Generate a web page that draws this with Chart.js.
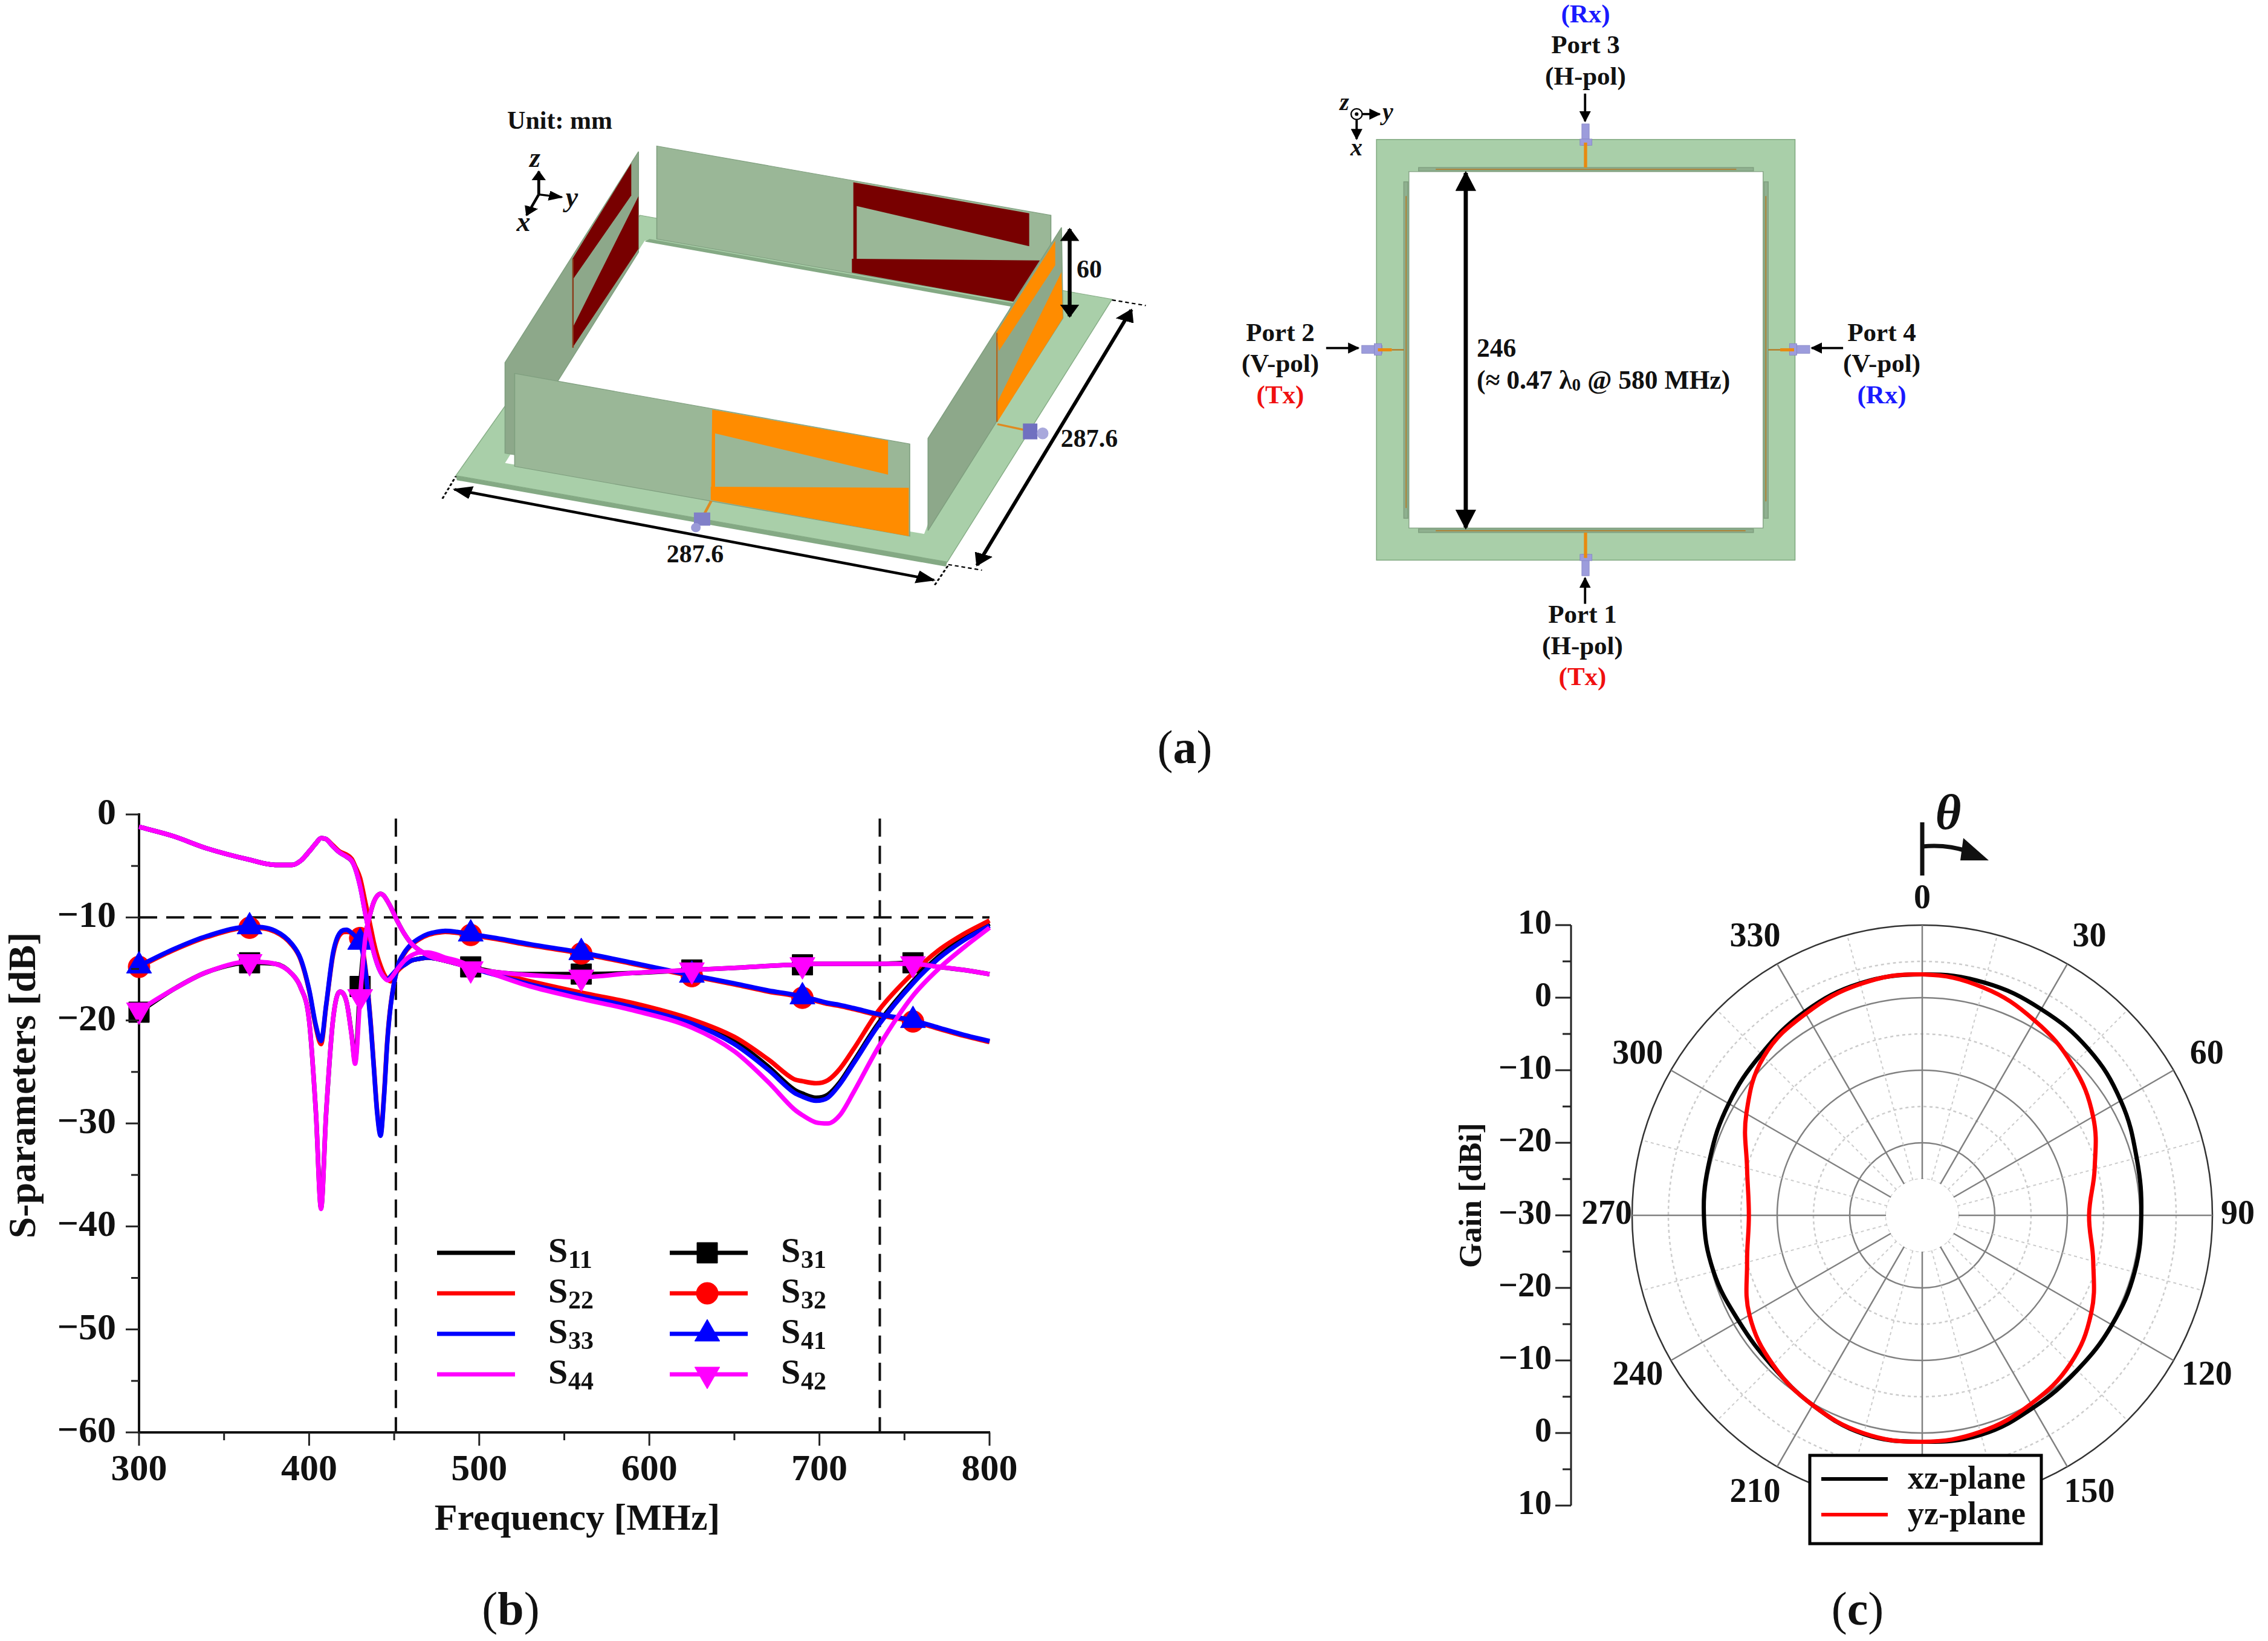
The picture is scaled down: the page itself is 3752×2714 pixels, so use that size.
<!DOCTYPE html>
<html>
<head>
<meta charset="utf-8">
<title>Antenna S-parameters and gain pattern</title>
<script src="https://cdn.jsdelivr.net/npm/chart.js@4"></script>
<style>
  html, body { margin: 0; background: #fff; }
  #page { position: relative; width: 3752px; height: 2714px; overflow: hidden; }
  #page svg, #page canvas { position: absolute; }
  svg text { font-family: "Liberation Serif", serif; font-weight: bold; fill: #111; dominant-baseline: central; }
</style>
</head>
<body>
<div id="page">
<svg width="3752" height="2714" viewBox="0 0 3752 2714">
  <defs>
    <marker id="ah" viewBox="0 0 10 10" refX="9" refY="5" markerWidth="5" markerHeight="5" orient="auto-start-reverse"><path d="M0 0L10 5L0 10z" fill="#000"/></marker>
  </defs>

  <!-- perspective view, polygons in crop coordinates -->
  <g transform="translate(700,150) scale(.797,.545)">
    <polygon points="450,378 1430,633 1088,1430 68,1168" fill="#a9cfa9" stroke="#86ad86" stroke-width="2"/>
    <polygon points="68,1168 1088,1430 1085,1444 70,1182" fill="#84a984"/>
    <polygon points="460,455 1220,650 1040,1345 170,1130" fill="#fff"/>
    <polygon points="485,168 1303,378 1303,470 1225,640 485,450" fill="#9ab797" stroke="#7f9f7f" stroke-width="2"/>
    <polygon points="470,450 1225,645 1220,655 460,458" fill="#84a984"/>
    <polygon points="893,278 1258,372 1258,472 900,350 900,512 893,512" fill="#780000"/>
    <polygon points="890,510 1280,515 1225,640 890,552" fill="#780000"/>
    <polygon points="447,185 170,825 170,1100 190,1105 280,880 447,490" fill="#8da88a" stroke="#7f9f7f" stroke-width="2"/>
    <polygon points="432,220 432,318 312,570 310,510" fill="#780000"/>
    <polygon points="447,320 447,480 310,780 310,720" fill="#780000"/>
    <line x1="311" y1="510" x2="311" y2="780" stroke="#8a3a1a" stroke-width="3"/>
    <polygon points="190,858 1010,1072 1010,1352 190,1140" fill="#9ab797" stroke="#7f9f7f" stroke-width="2"/>
    <polygon points="600,968 965,1062 965,1165 606,1040 606,1205 598,1205" fill="#ff8c00"/>
    <polygon points="597,1202 1008,1205 1008,1352 597,1242" fill="#ff8c00"/>
    <polygon points="1325,415 1048,1055 1048,1335 1190,1005 1328,690" fill="#8da88a" stroke="#7f9f7f" stroke-width="2"/>
    <polygon points="1312,455 1312,530 1195,790 1190,735" fill="#ff8c00"/>
    <polygon points="1325,550 1328,690 1192,1005 1192,945" fill="#ff8c00"/>
    <line x1="1191" y1="735" x2="1191" y2="1005" stroke="#b5651d" stroke-width="3"/>
    <line x1="598" y1="1245" x2="578" y2="1300" stroke="#e08a20" stroke-width="6"/>
    <line x1="1192" y1="1012" x2="1250" y2="1030" stroke="#e08a20" stroke-width="6"/>
    <rect x="562" y="1280" width="34" height="40" fill="#8080c8"/>
    <ellipse cx="566" cy="1326" rx="10" ry="14" fill="#9a9ad8"/>
    <rect x="1245" y="1010" width="30" height="48" fill="#7070c0"/>
    <ellipse cx="1286" cy="1040" rx="12" ry="18" fill="#a8a8dc"/>
    <g stroke="#000" fill="none">
      <line x1="65" y1="1210" x2="1060" y2="1485" stroke-width="8" marker-start="url(#ah)" marker-end="url(#ah)"/>
      <line x1="1150" y1="1440" x2="1470" y2="665" stroke-width="8" marker-start="url(#ah)" marker-end="url(#ah)"/>
      <line x1="1342" y1="420" x2="1342" y2="685" stroke-width="8" marker-start="url(#ah)" marker-end="url(#ah)"/>
      <g stroke-width="4" stroke-dasharray="8 6">
        <line x1="40" y1="1238" x2="68" y2="1170"/>
        <line x1="1062" y1="1500" x2="1090" y2="1440"/>
        <line x1="1090" y1="1438" x2="1160" y2="1455"/>
        <line x1="1430" y1="635" x2="1500" y2="652"/>
      </g>
      <line x1="240" y1="315" x2="240" y2="245" stroke-width="6" marker-end="url(#ah)"/>
      <line x1="240" y1="315" x2="288" y2="323" stroke-width="6" marker-end="url(#ah)"/>
      <line x1="240" y1="315" x2="215" y2="378" stroke-width="6" marker-end="url(#ah)"/>
    </g>
  </g>
  <text x="926" y="199" text-anchor="middle" font-size="42">Unit: mm</text>
  <text x="885" y="260" text-anchor="middle" font-size="46" font-style="italic">z</text>
  <text x="946" y="325" text-anchor="middle" font-size="46" font-style="italic">y</text>
  <text x="866" y="366" text-anchor="middle" font-size="46" font-style="italic">x</text>
  <text x="1802" y="445" text-anchor="middle" font-size="42">60</text>
  <text x="1802" y="725" text-anchor="middle" font-size="42">287.6</text>
  <text x="1150" y="916" text-anchor="middle" font-size="42">287.6</text>

  <!-- top view -->
  <g transform="translate(2050,0) scale(.765,.737)">
    <rect x="297" y="313" width="905" height="944" fill="#a9cfa9" stroke="#7fa87f" stroke-width="2"/>
    <rect x="367" y="385" width="766" height="800" fill="#fff" stroke="#8aa88a" stroke-width="2"/>
    <g stroke="#b08a3a" stroke-width="2">
      <rect x="388" y="376" width="724" height="8" fill="#8fb08f" stroke="#7f9f7f"/>
      <rect x="388" y="1187" width="724" height="8" fill="#8fb08f" stroke="#7f9f7f"/>
      <rect x="356" y="408" width="9" height="755" fill="#8fb08f" stroke="#7f9f7f"/>
      <rect x="1135" y="408" width="9" height="755" fill="#8fb08f" stroke="#7f9f7f"/>
      <line x1="425" y1="380" x2="1075" y2="380" stroke="#b5751d"/>
      <line x1="425" y1="1191" x2="1095" y2="1191" stroke="#b5751d"/>
      <line x1="361" y1="440" x2="361" y2="1140" stroke="#b5751d"/>
      <line x1="1139" y1="440" x2="1139" y2="1125" stroke="#b5751d"/>
    </g>
    <g fill="#9c9cdc" stroke="#8080c0">
      <rect x="741" y="278" width="16" height="48"/><rect x="737" y="312" width="26" height="14"/>
      <rect x="741" y="1244" width="16" height="48"/><rect x="737" y="1244" width="26" height="14"/>
      <rect x="265" y="775" width="44" height="18"/><rect x="292" y="771" width="16" height="26"/>
      <rect x="1190" y="775" width="44" height="18"/><rect x="1190" y="771" width="16" height="26"/>
    </g>
    <g stroke="#e88a10" stroke-width="7">
      <line x1="749" y1="320" x2="749" y2="376"/>
      <line x1="749" y1="1195" x2="749" y2="1252"/>
      <line x1="300" y1="785" x2="330" y2="785"/>
      <line x1="1170" y1="785" x2="1200" y2="785"/>
    </g>
    <g stroke="#b5751d" stroke-width="3">
      <line x1="330" y1="785" x2="356" y2="785"/>
      <line x1="1144" y1="785" x2="1170" y2="785"/>
    </g>
    <g stroke="#000" fill="none" stroke-width="5">
      <line x1="748" y1="210" x2="748" y2="272" marker-end="url(#ah)"/>
      <line x1="748" y1="1355" x2="748" y2="1297" marker-end="url(#ah)"/>
      <line x1="188" y1="781" x2="258" y2="781" marker-end="url(#ah)"/>
      <line x1="1306" y1="781" x2="1238" y2="781" marker-end="url(#ah)"/>
      <line x1="490" y1="388" x2="490" y2="1184" stroke-width="9" marker-start="url(#ah)" marker-end="url(#ah)"/>
      <circle cx="254" cy="256" r="12" stroke-width="3"/>
      <line x1="266" y1="256" x2="304" y2="256" marker-end="url(#ah)"/>
      <line x1="254" y1="268" x2="254" y2="312" marker-end="url(#ah)"/>
    </g>
    <circle cx="254" cy="256" r="4" fill="#000"/>
  </g>
  <text x="2224" y="168" text-anchor="middle" font-size="40" font-style="italic">z</text>
  <text x="2296" y="184" text-anchor="middle" font-size="40" font-style="italic">y</text>
  <text x="2244" y="243" text-anchor="middle" font-size="40" font-style="italic">x</text>

  <g font-size="43" text-anchor="middle">
    <text x="2623" y="22" style="fill:#1a1aff">(Rx)</text>
    <text x="2623" y="73">Port 3</text>
    <text x="2623" y="125">(H-pol)</text>
    <text x="2118" y="549">Port 2</text>
    <text x="2118" y="600">(V-pol)</text>
    <text x="2118" y="652" style="fill:#f01010">(Tx)</text>
    <text x="3113" y="549">Port 4</text>
    <text x="3113" y="600">(V-pol)</text>
    <text x="3113" y="652" style="fill:#1a1aff">(Rx)</text>
    <text x="2618" y="1015">Port 1</text>
    <text x="2618" y="1067">(H-pol)</text>
    <text x="2618" y="1118" style="fill:#f01010">(Tx)</text>
  </g>
  <text x="2443" y="575" font-size="43.5">246</text>
  <text x="2443" y="628" font-size="43.5">(≈ 0.47 λ<tspan font-size="29" dy="8">0</tspan><tspan dy="-8"> @ 580 MHz)</tspan></text>

  <text x="1960" y="1235" text-anchor="middle" font-size="78" style="font-weight:normal">(<tspan font-weight="bold">a</tspan>)</text>
  <text x="845" y="2660" text-anchor="middle" font-size="78" style="font-weight:normal">(<tspan font-weight="bold">b</tspan>)</text>
  <text x="3073" y="2660" text-anchor="middle" font-size="78" style="font-weight:normal">(<tspan font-weight="bold">c</tspan>)</text>
</svg>

<canvas id="sparams" width="1750" height="1300" style="left:0;top:1300px"></canvas>
<canvas id="pattern" width="1402" height="1414" style="left:2350px;top:1300px"></canvas>
</div>

<script>
// ---- panel (b) values ----
const freqMHz = [300,320,340,365,380,390,395,400,404,407,410,414,418,422,425,427,430,433,436,438,440,442,444,446,448,452,456,460,465,470,475,480,487,495,510,530,560,590,625,650,670,685,690,698,705,712,720,735,755,770,785,800];
const markerFreqs = [300,365,430,495,560,625,690,755];
const freqTicks = [300,400,500,600,700,800];
const dbTicks = [0,-10,-20,-30,-40,-50,-60];
const limitDb = -10;
const bandEdges = [451,735.5];

const s11 = [-1.2,-2.1,-3.3,-4.4,-4.9,-4.9,-4.5,-3.6,-2.8,-2.3,-2.4,-3.1,-3.7,-4.1,-4.5,-5.1,-6.6,-9,-11.4,-12.9,-14.1,-15,-15.6,-16,-16,-15,-14.6,-14.2,-14,-13.9,-14,-14.2,-14.5,-14.9,-15.5,-16.4,-17.5,-18.5,-20.1,-22,-24.5,-26.7,-27.1,-27.5,-27.2,-26,-24,-20.2,-16.2,-13.8,-12,-10.6];
const s22 = [-1.2,-2.1,-3.3,-4.4,-4.9,-4.9,-4.5,-3.6,-2.8,-2.3,-2.4,-3,-3.6,-3.9,-4.3,-5,-6.2,-8.5,-10.8,-12.4,-13.7,-14.7,-15.5,-16,-16.2,-15.2,-14.6,-14.2,-14,-13.9,-14,-14.2,-14.5,-14.9,-15.4,-16.2,-17.3,-18.3,-19.9,-21.6,-23.8,-25.7,-25.9,-26.1,-25.8,-24.7,-22.8,-19,-15.4,-13.2,-11.6,-10.3];
const s33 = [-1.2,-2.1,-3.3,-4.4,-4.9,-4.9,-4.5,-3.6,-2.8,-2.3,-2.4,-3.1,-3.7,-4.1,-4.5,-5.2,-7,-9.6,-12,-13.4,-14.5,-15.3,-15.8,-16,-15.7,-15,-14.6,-14.2,-14,-13.9,-14,-14.2,-14.5,-14.9,-15.6,-16.5,-17.6,-18.7,-20.3,-22.3,-24.8,-27,-27.4,-27.8,-27.5,-26.2,-24.2,-20.4,-16.4,-14,-12.2,-10.8];
const s44 = [-1.2,-2.1,-3.3,-4.4,-4.9,-4.9,-4.5,-3.6,-2.8,-2.3,-2.4,-3.1,-3.7,-4.1,-4.5,-5.2,-7,-9.6,-12,-13.4,-14.5,-15.3,-15.8,-16.1,-15.9,-15,-14.2,-13.7,-13.4,-13.4,-13.6,-13.9,-14.2,-14.7,-15.6,-16.7,-17.9,-19,-20.7,-23,-26,-28.6,-29.2,-29.9,-30,-29.2,-27,-22.5,-17.6,-15,-12.9,-11];
const s31 = [-19.2,-17,-15.3,-14.4,-14.5,-15.5,-16.8,-20,-29,-38.2,-29,-20,-17.2,-18.2,-21.4,-24,-16.7,-11.9,-9.6,-8.5,-7.9,-7.7,-7.9,-8.4,-9,-10.4,-11.6,-12.5,-13.2,-13.7,-14,-14.2,-14.5,-14.8,-15.3,-15.5,-15.5,-15.4,-15.1,-14.9,-14.7,-14.6,-14.6,-14.5,-14.5,-14.5,-14.5,-14.5,-14.4,-14.8,-15.1,-15.5];
const s32 = [-14.8,-13.2,-11.9,-11,-11.4,-12.7,-14.1,-17.1,-20.7,-22.3,-18.6,-13.7,-11.7,-11.4,-11.5,-11.7,-12,-14.8,-19.8,-24.3,-28.8,-31,-27.3,-21.8,-18.4,-14.9,-13.5,-12.7,-12.1,-11.7,-11.5,-11.4,-11.5,-11.7,-12.1,-12.7,-13.5,-14.5,-15.7,-16.5,-17.2,-17.6,-17.8,-18.1,-18.4,-18.6,-18.9,-19.5,-20.1,-20.8,-21.5,-22.1];
const s41 = [-14.7,-13.1,-11.8,-10.9,-11.3,-12.6,-14,-17,-20.5,-22,-18.5,-13.5,-11.5,-11.2,-11.5,-11.8,-12.4,-15,-20,-24.5,-29,-31.2,-27.5,-22,-18.5,-14.8,-13.4,-12.6,-12,-11.6,-11.4,-11.3,-11.4,-11.6,-12,-12.6,-13.4,-14.4,-15.6,-16.4,-17.1,-17.5,-17.7,-18,-18.3,-18.5,-18.8,-19.4,-20,-20.7,-21.4,-22];
const s42 = [-19,-17,-15.3,-14.3,-14.5,-15.5,-16.8,-20,-29,-38.3,-29,-20,-17.2,-18.2,-21.5,-24.2,-17.7,-12,-9.6,-8.5,-7.9,-7.7,-7.9,-8.4,-9,-10.4,-11.6,-12.5,-13.2,-13.7,-14,-14.2,-14.5,-15,-15.3,-15.6,-15.8,-15.4,-15.1,-14.9,-14.7,-14.6,-14.6,-14.5,-14.5,-14.5,-14.5,-14.5,-14.5,-14.8,-15.1,-15.5];

// ---- panel (c) values, one per 15 degrees ----
const thetaDeg = [0,15,30,45,60,75,90,105,120,135,150,165,180,195,210,225,240,255,270,285,300,315,330,345];
const xzPlane = [3.2,3.2,2.8,2.4,1.6,0.6,0.2,0.3,0.2,0.2,0.6,1.3,1.2,1.2,0.2,-0.7,-0.8,-0.2,0.1,0.3,0.8,1.4,2.4,3.1];
const yzPlane = [3.2,2.5,1,-0.7,-2.8,-5.4,-7,-5.6,-3.1,-1.1,0,0.9,1.2,1.1,0.2,-0.9,-2.5,-5,-6.1,-5,-2,0.9,2.1,3];
const gainAxisUp = [10,0,-10,-20,-30];
const gainAxisDown = [-20,-10,0,10];

const BLACK = '#000000', RED = '#ff0000', BLUE = '#0000ff', MAGENTA = '#ff00ff';
const SERIF = '"Liberation Serif", serif';
const minus = v => String(v).replace('-', '\u2212');

function text(ctx, str, x, y, font, align, rotate) {
  ctx.save();
  ctx.font = font;
  ctx.fillStyle = '#111';
  ctx.textAlign = align || 'center';
  ctx.textBaseline = 'middle';
  ctx.translate(x, y);
  if (rotate) ctx.rotate(rotate);
  ctx.fillText(str, 0, 0);
  ctx.restore();
}

function seg(ctx, x1, y1, x2, y2, color, width) {
  ctx.strokeStyle = color;
  ctx.lineWidth = width;
  ctx.beginPath();
  ctx.moveTo(x1, y1);
  ctx.lineTo(x2, y2);
  ctx.stroke();
}

// ---- panel (b) ----
const legendRows = [
  { name: 'S', sub: '11', color: BLACK, col: 0, row: 0 },
  { name: 'S', sub: '22', color: RED, col: 0, row: 1 },
  { name: 'S', sub: '33', color: BLUE, col: 0, row: 2 },
  { name: 'S', sub: '44', color: MAGENTA, col: 0, row: 3 },
  { name: 'S', sub: '31', color: BLACK, col: 1, row: 0, style: 'rect', radius: 24 },
  { name: 'S', sub: '32', color: RED, col: 1, row: 1, style: 'circle', radius: 18 },
  { name: 'S', sub: '41', color: BLUE, col: 1, row: 2, style: 'triangle', radius: 24 },
  { name: 'S', sub: '42', color: MAGENTA, col: 1, row: 3, style: 'triangle', radius: 24, rotation: 180 }
];

const sparamDecor = {
  id: 'sparamDecor',
  afterDraw(chart) {
    const { ctx, scales: { x, y } } = chart;
    x.ticks.forEach(t => {
      const px = x.getPixelForValue(t.value);
      seg(ctx, px, y.bottom, px, y.bottom + (freqTicks.includes(t.value) ? 22 : 13), '#222', 3);
    });
    y.ticks.forEach(t => {
      const py = y.getPixelForValue(t.value);
      seg(ctx, x.left, py, x.left - (dbTicks.includes(t.value) ? 22 : 13), py, '#222', 3);
    });
    text(ctx, 'Frequency [MHz]', 955, 1214, 'bold 62px ' + SERIF);
    text(ctx, 'S-parameters [dB]', 41, 495, 'bold 64px ' + SERIF, 'center', -Math.PI / 2);
    legendRows.forEach(r => {
      const lx = r.col ? 1108 : 723;
      const ly = 772 + r.row * 67;
      seg(ctx, lx, ly, lx + 129, ly, r.color, 7);
      if (r.style) {
        ctx.fillStyle = r.color;
        ctx.strokeStyle = r.color;
        ctx.lineWidth = 1;
        Chart.helpers.drawPoint(ctx, { pointStyle: r.style, radius: r.radius, rotation: r.rotation || 0, borderWidth: 1 }, lx + 62, ly);
      }
      const tx = r.col ? 1292 : 907;
      text(ctx, r.name, tx, ly, 'bold 58px ' + SERIF, 'left');
      text(ctx, r.sub, tx + 33, ly + 14, 'bold 42px ' + SERIF, 'left');
    });
  }
};

function curve(label, values, color, order, marker) {
  const ds = {
    label,
    data: freqMHz.map((f, i) => ({ x: f, y: values[i] })),
    borderColor: color,
    backgroundColor: color,
    borderWidth: 7.5,
    cubicInterpolationMode: 'monotone',
    clip: false,
    order,
    pointRadius: 0,
    pointBorderWidth: 1
  };
  if (marker) {
    ds.pointStyle = marker.style;
    ds.pointRotation = marker.rotation || 0;
    ds.pointRadius = c => markerFreqs.includes(freqMHz[c.dataIndex]) ? marker.radius : 0;
  }
  return ds;
}

function dashed(data, order) {
  return { data, borderColor: '#111', borderWidth: 4, borderDash: [30, 15], pointRadius: 0, clip: false, order };
}

new Chart(document.getElementById('sparams'), {
  type: 'line',
  data: {
    datasets: [
      curve('S44', s44, MAGENTA, 1),
      curve('S42', s42, MAGENTA, 0, { style: 'triangle', radius: 24, rotation: 180 }),
      curve('S33', s33, BLUE, 3),
      curve('S41', s41, BLUE, 2, { style: 'triangle', radius: 24 }),
      curve('S22', s22, RED, 5),
      curve('S32', s32, RED, 4, { style: 'circle', radius: 18 }),
      curve('S11', s11, BLACK, 7),
      curve('S31', s31, BLACK, 6, { style: 'rect', radius: 24 }),
      dashed([{ x: 300, y: limitDb }, { x: 800, y: limitDb }], 10),
      dashed([{ x: bandEdges[0], y: -0.4 }, { x: bandEdges[0], y: -60 }], 10),
      dashed([{ x: bandEdges[1], y: -0.4 }, { x: bandEdges[1], y: -60 }], 10)
    ]
  },
  plugins: [sparamDecor],
  options: {
    responsive: false,
    animation: false,
    devicePixelRatio: 1,
    layout: { padding: { top: 47, right: 113 } },
    plugins: { legend: { display: false }, tooltip: { enabled: false } },
    scales: {
      x: {
        type: 'linear',
        min: 300,
        max: 800,
        afterFit: s => { s.height = 231; s.paddingLeft = 0; s.paddingRight = 0; },
        grid: { display: false },
        border: { color: '#111', width: 4 },
        ticks: {
          stepSize: 50,
          maxRotation: 0,
          autoSkip: false,
          padding: 18,
          color: '#111',
          font: { family: SERIF, size: 62, weight: 'bold' },
          callback: v => freqTicks.includes(v) ? v : ''
        }
      },
      y: {
        min: -60,
        max: 0,
        afterFit: s => { s.width = 230; s.paddingTop = 0; s.paddingBottom = 0; },
        grid: { display: false },
        border: { color: '#111', width: 4 },
        ticks: {
          stepSize: 5,
          autoSkip: false,
          padding: 30,
          color: '#111',
          font: { family: SERIF, size: 62, weight: 'bold' },
          callback: v => dbTicks.includes(v) ? minus(v) : ''
        }
      }
    }
  }
});

// ---- panel (c) ----
const patternDecor = {
  id: 'patternDecor',
  beforeDatasetsDraw(chart) {
    const { ctx } = chart;
    const r = chart.scales.r;
    const inner = r.getDistanceFromCenterForValue(-25);
    ctx.save();
    ctx.beginPath();
    ctx.arc(r.xCenter, r.yCenter, inner, 0, Math.PI * 2);
    ctx.fillStyle = '#fff';
    ctx.fill();
    thetaDeg.forEach((deg, i) => {
      const solid = deg % 30 === 0;
      const a = r.getPointPosition(i, inner);
      const b = r.getPointPosition(i, r.drawingArea);
      ctx.setLineDash(solid ? [] : [5, 5]);
      seg(ctx, a.x, a.y, b.x, b.y, solid ? '#808080' : '#cccccc', solid ? 2.5 : 2);
    });
    ctx.restore();
  },
  afterDraw(chart) {
    const { ctx } = chart;
    const r = chart.scales.r;
    const font = 'bold 56px ' + SERIF;
    thetaDeg.forEach((deg, i) => {
      if (deg % 30) return;
      const onAxis = deg % 90 === 0;
      const p = r.getPointPosition(i, r.drawingArea + (onAxis ? 42 : 51));
      const shift = onAxis ? 0 : (deg < 180 ? 11 : -11);
      text(ctx, String(deg), p.x + shift, p.y, font);
    });

    // gain axis to the left of the circle
    const ax = 249;
    const ym = v => r.getDistanceFromCenterForValue(v);
    seg(ctx, ax, r.yCenter - ym(10), ax, r.yCenter + ym(10), '#222', 3);
    const tick = (y, major, label) => {
      seg(ctx, ax, y, ax - (major ? 26 : 14), y, '#222', 3);
      if (label !== undefined) text(ctx, minus(label), ax - 32, y, font, 'right');
    };
    gainAxisUp.forEach(v => {
      tick(r.yCenter - ym(v), true, v);
      if (v < 10) tick(r.yCenter - ym(v + 5), false);
    });
    gainAxisDown.forEach(v => {
      tick(r.yCenter + ym(v), true, v);
      tick(r.yCenter + ym(v - 5), false);
    });
    text(ctx, 'Gain [dBi]', 86, 677, 'bold 53px ' + SERIF, 'center', -Math.PI / 2);

    // theta marker
    seg(ctx, 830, 60, 830, 148, '#111', 7);
    ctx.strokeStyle = '#111';
    ctx.lineWidth = 7;
    ctx.beginPath();
    ctx.moveTo(830, 100);
    ctx.quadraticCurveTo(870, 96, 905, 108);
    ctx.stroke();
    ctx.fillStyle = '#111';
    ctx.beginPath();
    ctx.moveTo(898, 86);
    ctx.lineTo(940, 123);
    ctx.lineTo(893, 123);
    ctx.closePath();
    ctx.fill();
    text(ctx, '\u03b8', 873, 50, 'italic bold 82px ' + SERIF);

    // legend box
    ctx.fillStyle = '#fff';
    ctx.fillRect(644, 1107, 383, 146);
    ctx.strokeStyle = '#000';
    ctx.lineWidth = 5;
    ctx.strokeRect(644, 1107, 383, 146);
    seg(ctx, 663, 1146, 773, 1146, BLACK, 6);
    seg(ctx, 663, 1205, 773, 1205, RED, 6);
    text(ctx, 'xz-plane', 806, 1148, 'bold 54px ' + SERIF, 'left');
    text(ctx, 'yz-plane', 806, 1207, 'bold 54px ' + SERIF, 'left');
  }
};

new Chart(document.getElementById('pattern'), {
  type: 'radar',
  data: {
    labels: thetaDeg,
    datasets: [
      { label: 'yz-plane', data: yzPlane, borderColor: RED, borderWidth: 7, tension: 0.4, fill: false, pointRadius: 0, order: 0 },
      { label: 'xz-plane', data: xzPlane, borderColor: BLACK, borderWidth: 7, tension: 0.4, fill: false, pointRadius: 0, order: 1 }
    ]
  },
  plugins: [patternDecor],
  options: {
    responsive: false,
    animation: false,
    devicePixelRatio: 1,
    layout: { padding: { left: 350, right: 92, top: 230, bottom: 224 } },
    plugins: { legend: { display: false }, tooltip: { enabled: false } },
    scales: {
      r: {
        min: -30,
        max: 10,
        ticks: { stepSize: 5, display: false },
        pointLabels: { display: false },
        angleLines: { display: false },
        grid: {
          circular: true,
          lineWidth: 2.5,
          color: c => c.tick.value === 10 ? '#333' : (c.tick.value % 10 === 0 ? '#808080' : '#cccccc')
        },
        border: { dash: c => c.tick.value % 10 === 0 ? [] : [5, 5] }
      }
    }
  }
});
</script>
</body>
</html>
